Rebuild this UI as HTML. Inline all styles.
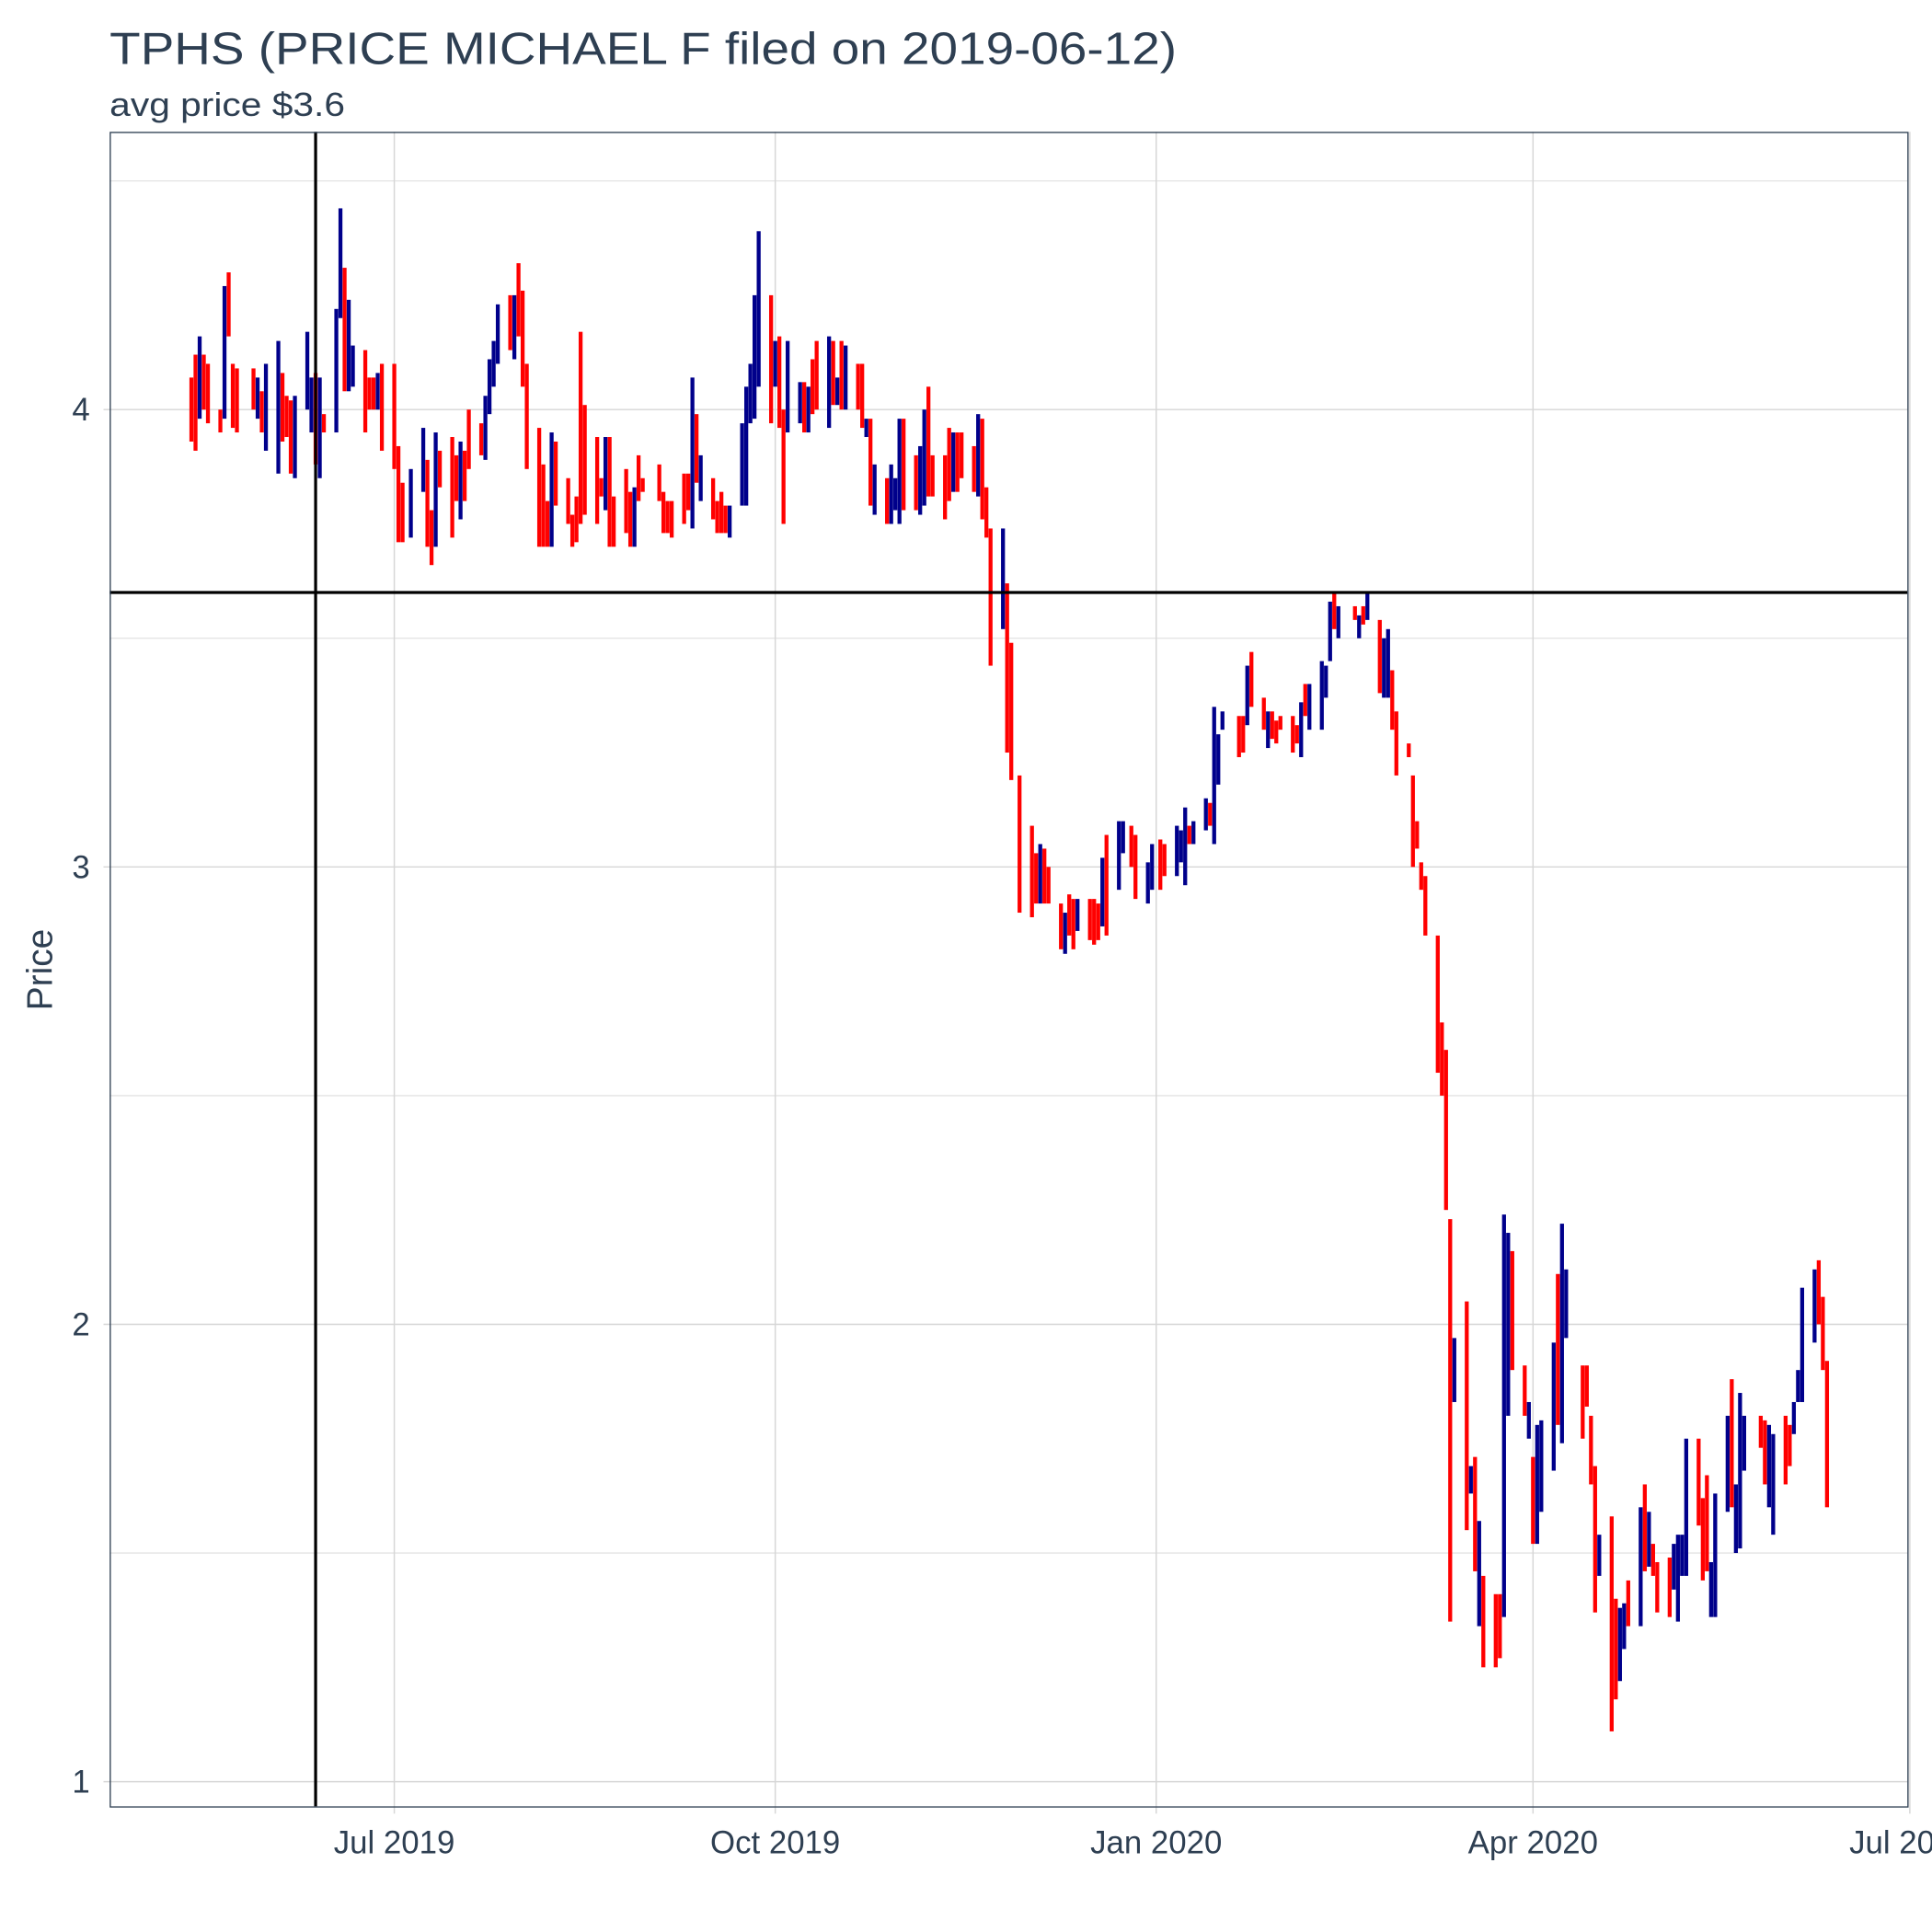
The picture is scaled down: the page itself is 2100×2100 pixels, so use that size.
<!DOCTYPE html>
<html><head><meta charset="utf-8"><style>
html,body{margin:0;padding:0;background:#fff;}
svg{display:block;font-family:"Liberation Sans",sans-serif;}
</style></head><body>
<svg id="chart" width="2100" height="2100" viewBox="0 0 1568 1568" xmlns="http://www.w3.org/2000/svg">
<rect width="1568" height="1568" fill="#fff"/>
<text x="89" y="52" font-size="37" fill="#2e3f52" textLength="866" lengthAdjust="spacingAndGlyphs">TPHS (PRICE MICHAEL F filed on 2019-06-12)</text>
<text x="89" y="94" font-size="27" fill="#2e3f52" textLength="191" lengthAdjust="spacingAndGlyphs">avg price $3.6</text>
<text transform="translate(42,787) rotate(-90)" text-anchor="middle" font-size="29" fill="#2e3f52">Price</text>
<g id="grid"></g>
<g id="bars"></g>
<g id="refs"></g>
<rect x="89.5" y="107.5" width="1459" height="1359" fill="none" stroke="#2e3f52" stroke-width="1"/>
<g id="axes"></g>
</svg>
<script>
const yTicks = [1, 2, 3, 4];
const yMinor = [1.5, 2.5, 3.5, 4.5];
const xTickDates = ["2019-07-01", "2019-10-01", "2020-01-01", "2020-04-01", "2020-07-01"];
const xTickLabels = ["Jul 2019", "Oct 2019", "Jan 2020", "Apr 2020", "Jul 2020"];
const startDate = "2019-05-13";
const filedDate = "2019-06-12";
const avgPrice = 3.6;
const lows = [
3.93,3.91,3.98,4.00,3.97,3.95,3.98,4.16,3.96,3.95,null,4.00,3.98,3.95,3.91,
3.86,3.93,3.94,3.86,3.85,4.00,3.95,3.88,3.85,3.95,3.95,4.20,4.04,4.04,4.05,3.95,4.00,4.00,4.00,3.91,
3.87,3.71,3.71,null,3.72,3.82,3.70,3.66,3.70,3.83,3.72,3.80,3.76,3.80,3.87,3.90,3.89,3.99,4.05,4.10,4.13,4.11,4.16,
4.05,3.87,3.70,3.70,3.70,3.70,3.79,3.75,3.70,3.71,3.75,3.77,3.75,3.81,3.78,3.70,3.70,3.73,3.70,3.70,3.80,3.82,
null,3.80,3.73,3.73,3.72,3.75,3.78,3.74,3.84,3.80,3.76,3.73,3.73,3.73,3.72,3.79,3.79,3.97,3.98,4.05,3.97,
4.05,3.96,3.75,3.95,3.97,3.95,3.95,3.99,4.00,3.96,4.01,4.01,4.00,4.00,4.00,3.96,3.94,3.79,3.77,3.75,3.75,3.78,3.75,
3.78,3.78,3.77,3.79,3.81,3.81,3.76,3.80,3.82,3.82,3.85,3.82,3.81,3.76,3.72,3.44,3.52,3.25,3.19,null,2.90,
2.89,2.92,2.92,2.92,2.92,2.82,2.81,2.85,2.82,2.86,2.84,2.83,2.84,2.87,2.85,2.95,3.03,null,3.00,2.93,2.92,2.95,
null,2.95,2.98,2.98,3.01,2.96,3.05,3.05,3.08,3.09,3.05,3.18,3.30,null,3.24,3.25,3.31,3.35,3.30,3.26,3.28,3.27,3.30,
3.25,3.27,3.24,3.33,3.30,3.30,3.37,3.45,3.52,3.50,null,3.54,3.50,3.53,3.54,3.38,3.37,3.37,3.30,3.20,
3.24,3.00,3.04,2.95,2.85,2.55,2.50,2.25,1.35,1.83,1.55,1.63,1.46,1.34,1.25,1.25,1.27,1.36,1.80,1.90,1.80,1.75,
1.52,1.52,1.59,1.68,1.78,1.74,1.97,null,1.75,1.82,1.65,1.37,1.45,1.11,1.18,1.22,1.29,1.34,1.34,1.46,1.47,1.45,
1.37,1.36,1.42,1.35,1.45,1.45,1.56,1.44,1.46,1.36,1.36,1.59,1.60,1.50,1.51,1.68,null,1.73,1.65,1.60,1.54,
1.65,1.69,1.76,1.83,1.83,1.96,2.00,1.90,1.60];
const highs = [
4.07,4.12,4.16,4.12,4.10,4.00,4.27,4.30,4.10,4.09,null,4.09,4.07,4.04,4.10,
4.15,4.08,4.03,4.02,4.03,4.17,4.07,4.08,4.07,3.99,4.22,4.44,4.31,4.24,4.14,4.13,4.07,4.07,4.08,4.10,
4.10,3.92,3.84,null,3.87,3.96,3.89,3.78,3.95,3.91,3.94,3.90,3.93,3.91,4.00,3.97,4.03,4.11,4.15,4.23,4.25,4.25,4.32,
4.26,4.10,3.96,3.88,3.80,3.95,3.93,3.85,3.77,3.81,4.17,4.01,3.94,3.85,3.94,3.94,3.81,3.87,3.82,3.83,3.90,3.85,
null,3.88,3.82,3.80,3.80,3.86,3.86,4.07,3.99,3.90,3.85,3.80,3.82,3.79,3.79,3.97,4.05,4.10,4.25,4.39,4.25,
4.15,4.16,4.00,4.15,4.06,4.06,4.05,4.11,4.15,4.16,4.15,4.07,4.15,4.14,4.10,4.10,3.98,3.98,3.88,3.85,3.88,3.85,3.98,
3.98,3.90,3.92,4.00,4.05,3.90,3.90,3.96,3.95,3.95,3.95,3.92,3.99,3.98,3.83,3.74,3.74,3.62,3.49,null,3.20,
3.09,3.03,3.05,3.04,3.00,2.92,2.90,2.94,2.93,2.93,2.93,2.93,2.92,3.02,3.07,3.10,3.10,null,3.09,3.07,3.01,3.05,
null,3.06,3.05,3.09,3.08,3.13,3.09,3.10,3.15,3.14,3.35,3.29,3.34,null,3.33,3.33,3.44,3.47,3.37,3.34,3.34,3.32,3.33,
3.33,3.31,3.36,3.40,3.40,3.45,3.44,3.58,3.60,3.57,null,3.57,3.55,3.57,3.60,3.54,3.50,3.52,3.43,3.34,
3.27,3.20,3.10,3.01,2.98,2.85,2.66,2.60,2.23,1.97,2.05,1.69,1.71,1.57,1.45,1.41,1.41,2.24,2.20,2.16,1.91,1.83,
1.71,1.78,1.79,1.96,2.11,2.22,2.12,null,1.91,1.91,1.80,1.69,1.54,1.58,1.40,1.38,1.39,1.44,1.60,1.65,1.59,1.52,
1.48,1.49,1.52,1.54,1.54,1.75,1.75,1.62,1.67,1.48,1.63,1.80,1.88,1.65,1.85,1.80,null,1.80,1.79,1.78,1.76,
1.80,1.78,1.83,1.90,2.08,2.12,2.14,2.06,1.92];
const upDays = [
0,0,1,0,0,0,1,0,0,0,0,0,1,0,1,
1,0,0,0,1,1,1,0,1,0,1,1,0,1,1,0,0,0,1,0,
0,0,0,0,1,1,0,0,1,0,0,0,1,0,0,0,1,1,1,1,0,1,0,
0,0,0,0,0,1,0,0,0,0,0,0,0,0,1,0,0,0,0,1,0,0,
0,0,0,0,0,0,0,1,0,1,0,0,0,0,1,1,1,1,1,1,0,
1,0,0,1,1,0,1,0,0,1,0,1,0,1,0,0,1,0,1,0,1,1,1,
0,0,1,1,0,0,0,0,1,0,0,0,1,0,0,0,1,0,0,0,0,
0,0,1,0,0,0,1,0,0,1,0,0,0,1,0,1,1,0,0,0,1,1,
0,0,0,1,1,1,0,1,1,0,1,1,1,0,0,0,1,0,0,1,0,0,0,
0,0,1,0,1,1,1,1,0,1,0,0,1,0,1,0,1,1,0,0,
0,0,0,0,0,0,0,0,0,1,0,1,0,1,0,0,0,1,1,0,0,1,
0,1,1,1,0,1,1,0,0,0,0,0,1,0,0,1,1,0,1,0,1,0,
0,0,1,1,1,1,0,0,0,1,1,1,0,1,1,1,0,0,0,1,1,
0,0,1,1,1,1,0,0,0];

const NS = "http://www.w3.org/2000/svg";
const PX0 = 89, PX1 = 1548, PY0 = 107, PY1 = 1466;
const DAY = 86400000;
const jul1 = Date.UTC(2019, 6, 1);
function parse(s){const p=s.split("-").map(Number);return Date.UTC(p[0],p[1]-1,p[2]);}
function xScale(t){return 320 + (t - jul1) / DAY * (1230 / 366);}
function yScale(v){return 1446 - (v - 1) * 371.2;}
function mk(tag, attrs, parent){const e=document.createElementNS(NS,tag);for(const k in attrs)e.setAttribute(k,attrs[k]);parent.appendChild(e);return e;}

const grid = document.getElementById("grid");
const axes = document.getElementById("axes");
yMinor.forEach(v=>{
  const l = mk("line",{x1:PX0,x2:PX1,y1:yScale(v),y2:yScale(v),stroke:"#e3e3e3","stroke-width":1},grid);
  
  
});
yTicks.forEach(v=>{
  const y = yScale(v);
  const l = mk("line",{x1:PX0-5,x2:PX1,y1:y,y2:y,stroke:"#d6d6d6","stroke-width":1.1},grid);
  
  
  const t = mk("text",{x:73,y:y+9,"text-anchor":"end","font-size":26,fill:"#2e3f52"},axes);
  t.textContent = String(v);
  
  
});
xTickDates.forEach((d,i)=>{
  const x = xScale(parse(d));
  const l = mk("line",{x1:x,x2:x,y1:PY0,y2:PY1+6,stroke:"#d6d6d6","stroke-width":1.1},grid);
  
  
  const t = mk("text",{x:x,y:1504,"text-anchor":"middle","font-size":26,fill:"#2e3f52"},axes);
  t.textContent = xTickLabels[i];
  
  
});

const bars = document.getElementById("bars");
const t0 = parse(startDate);
const n = Math.min(lows.length, highs.length, upDays.length);
for(let i=0;i<n;i++){
  if(lows[i]===null || highs[i]===null) continue;
  const t = t0 + (Math.floor(i/5)*7 + i%5) * DAY;
  const x = xScale(t);
  const yT = yScale(highs[i]), yB = yScale(lows[i]);
  const r = mk("rect",{x:x-1.6,y:yT,width:3.2,height:Math.max(1,yB-yT),fill:upDays[i]?"#00008b":"#ff0000"},bars);
  
  
}

const refs = document.getElementById("refs");
const fx = xScale(parse(filedDate));
const vl = mk("line",{x1:fx,x2:fx,y1:PY0,y2:PY1,stroke:"#000","stroke-width":2.4},refs);


const hl = mk("line",{x1:PX0,x2:PX1,y1:yScale(avgPrice),y2:yScale(avgPrice),stroke:"#000","stroke-width":2.4},refs);


</script>
</body></html>
